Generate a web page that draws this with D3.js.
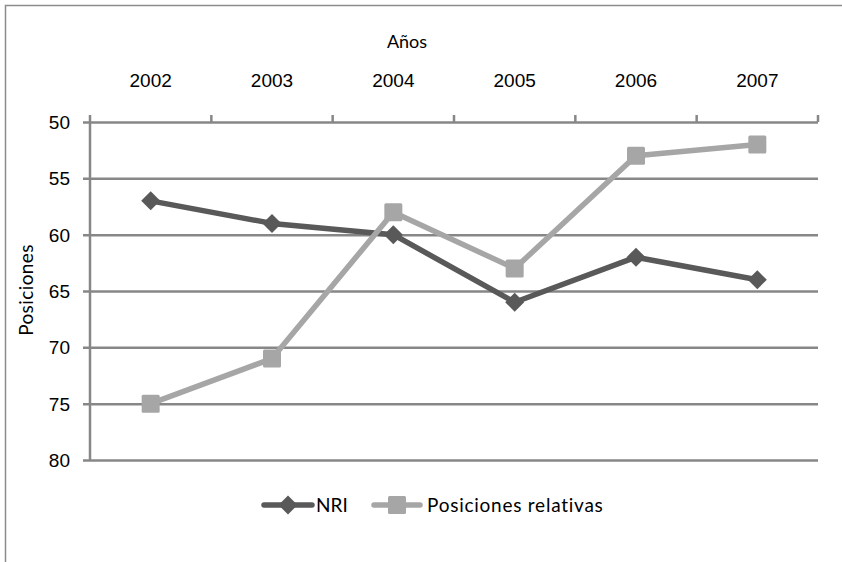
<!DOCTYPE html>
<html>
<head>
<meta charset="utf-8">
<script src="https://cdn.jsdelivr.net/npm/d3@7"></script>
<style>
  html, body { margin: 0; padding: 0; background: #fff; }
  svg { display: block; font-family: Lato, "Open Sans", sans-serif; }
</style>
</head>
<body>
<svg id="chart" width="842" height="562"></svg>
<script>
// Years along the top axis and the two ranking series
const years = ["2002", "2003", "2004", "2005", "2006", "2007"];
const nri = [57, 59, 60, 66, 62, 64];
const posicionesRelativas = [75, 71, 58, 63, 53, 52];
const yTicks = [50, 55, 60, 65, 70, 75, 80];

const series = [
  { name: "NRI", values: nri, color: "#595959", marker: "diamond" },
  { name: "Posiciones relativas", values: posicionesRelativas, color: "#a6a6a6", marker: "square" }
];

const svg = d3.select("#chart");
const plot = { left: 90, right: 818, top: 122, bottom: 460 };
const gridColor = "#878787";

// Outer chart frame
svg.append("rect")
  .attr("x", 5.5).attr("y", 5.5)
  .attr("width", 900).attr("height", 700)
  .attr("fill", "none").attr("stroke", "#8c8c8c").attr("stroke-width", 1.5);

const x = d3.scaleBand().domain(years).range([plot.left, plot.right]);
const y = d3.scaleLinear().domain([50, 80]).range([plot.top, plot.bottom]);

// Horizontal gridlines with left-side ticks
const yAxis = d3.axisLeft(y).tickValues(yTicks).tickSize(-(plot.right - plot.left)).tickPadding(14);
const gy = svg.append("g").attr("transform", `translate(${plot.left},0)`).call(yAxis);
gy.select(".domain").remove();
gy.selectAll(".tick line").attr("stroke", gridColor).attr("stroke-width", 2.5).attr("x1", -7);
gy.selectAll(".tick text").attr("fill", "#000").style("font-size", "19px").attr("x", -20).attr("dy", "0.35em");

// Vertical axis line
svg.append("line")
  .attr("x1", plot.left).attr("x2", plot.left)
  .attr("y1", plot.top).attr("y2", plot.bottom)
  .attr("stroke", gridColor).attr("stroke-width", 2.5);

// Category axis along the top
const xAxis = d3.axisTop(x).tickSize(0).tickPadding(0);
const gx = svg.append("g").attr("transform", `translate(0,${plot.top})`).call(xAxis);
gx.select(".domain").remove();
gx.selectAll(".tick text").attr("fill", "#000").style("font-size", "19px").attr("y", -35).attr("dy", 0);

// Category boundary ticks pointing up
const boundaries = years.map(d => x(d)).concat([x(years[years.length - 1]) + x.bandwidth()]);
svg.append("g").selectAll("line").data(boundaries).join("line")
  .attr("x1", d => d).attr("x2", d => d)
  .attr("y1", plot.top).attr("y2", plot.top - 7)
  .attr("stroke", gridColor).attr("stroke-width", 2.5);

// Axis titles
svg.append("text").attr("x", 407).attr("y", 48).attr("text-anchor", "middle")
  .style("font-size", "18px").text("Años");
svg.append("text").attr("transform", `translate(33,${(plot.top + plot.bottom) / 2 - 1}) rotate(-90)`)
  .attr("text-anchor", "middle").style("font-size", "19px").style("letter-spacing", "0.4px").text("Posiciones");

const cx = i => x(years[i]) + x.bandwidth() / 2;
const line = d3.line().x((d, i) => cx(i)).y(d => y(d));

function drawMarker(g, type, px, py, color) {
  if (type === "diamond") {
    const r = 9.5;
    g.append("path")
      .attr("d", `M${px},${py - r}L${px + r},${py}L${px},${py + r}L${px - r},${py}Z`)
      .attr("fill", color);
  } else {
    const s = 18;
    g.append("rect")
      .attr("x", px - s / 2).attr("y", py - s / 2)
      .attr("width", s).attr("height", s).attr("rx", 1.5)
      .attr("fill", color);
  }
}

// Series lines and markers
series.forEach(s => {
  const g = svg.append("g");
  g.append("path").datum(s.values)
    .attr("d", line).attr("fill", "none")
    .attr("stroke", s.color).attr("stroke-width", 5.5)
    .attr("stroke-linejoin", "round").attr("stroke-linecap", "round");
  s.values.forEach((v, i) => drawMarker(g, s.marker, cx(i), y(v), s.color));
});

// Legend
const legendY = 505;
const legendItems = [
  { s: series[0], x0: 264, x1: 312, tx: 316, spacing: 0 },
  { s: series[1], x0: 374, x1: 420, tx: 427, spacing: 0.75 }
];
legendItems.forEach(it => {
  const g = svg.append("g");
  g.append("line").attr("x1", it.x0).attr("x2", it.x1).attr("y1", legendY).attr("y2", legendY)
    .attr("stroke", it.s.color).attr("stroke-width", 5.5).attr("stroke-linecap", "round");
  drawMarker(g, it.s.marker, (it.x0 + it.x1) / 2, legendY, it.s.color);
  g.append("text").attr("x", it.tx).attr("y", legendY).attr("dy", "0.35em")
    .style("font-size", "19px").style("letter-spacing", `${it.spacing}px`).text(it.s.name);
});
</script>
</body>
</html>
